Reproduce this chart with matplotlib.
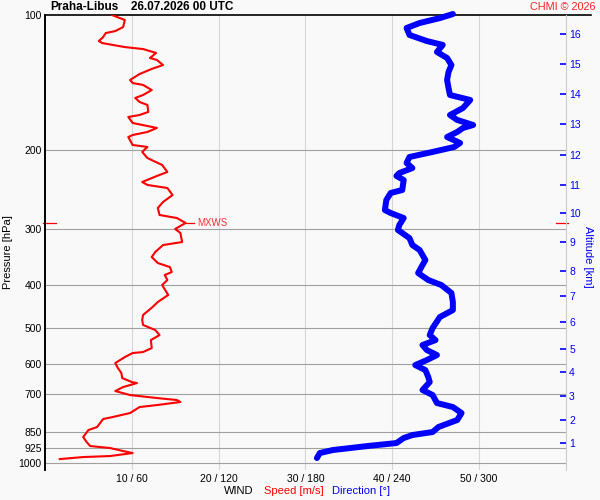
import numpy as np
import matplotlib.pyplot as plt
from matplotlib.ticker import NullLocator

plt.rcParams['font.family'] = ['Liberation Sans', 'DejaVu Sans']

station = 'Praha-Libus'
stamp = '26.07.2026 00 UTC'
credit = 'CHMI \u00a9 2026'

# wind speed profile: pressure [hPa], speed [m/s]
speed_p = [100, 102.6, 106.4, 108.6, 109.7, 112.0, 114.3, 115.5, 117.9, 119.1,
           121.5, 124.7, 126.0, 129.3, 131.9, 135.4, 139.6, 141.8, 143.2, 147.0,
           150.8, 153.1, 156.3, 158.7, 164.5, 167.1, 168.8, 174.1, 176.8, 178.6,
           182.3, 185.2, 187.1, 194.9, 196.9, 202.0, 208.4, 216.0, 223.9, 228.5,
           235.7, 239.3, 243.1, 252.0, 261.2, 269.4, 279.2, 283.6, 290.9, 295.4,
           300.0, 306.2, 320.8, 325.8, 337.7, 346.5, 357.3, 364.8, 374.2, 380.0,
           389.9, 400.1, 421.0, 436.4, 447.8, 466.5, 478.6, 491.1, 503.9, 517.2,
           530.7, 552.9, 564.3, 567.2, 579.0, 597.1, 612.6, 628.5, 644.9, 658.3,
           661.7, 675.4, 689.4, 703.7, 714.6, 722.0, 729.4, 740.8, 748.4, 771.8,
           787.8, 795.9, 829.3, 842.2, 873.0, 895.7, 914.3, 923.7, 938.1, 947.8,
           962.5, 967.5, 977.6]
speed = [7.7, 9.2, 9.0, 8.1, 7.0, 6.7, 6.2, 6.6, 9.2, 11.3,
         12.8, 12.1, 12.9, 13.6, 12.3, 10.9, 9.8, 10.1, 11.3, 12.3,
         11.3, 10.4, 10.9, 11.8, 11.9, 10.9, 9.6, 10.1, 11.8, 12.9,
         11.8, 10.1, 9.6, 10.1, 11.8, 11.2, 11.8, 13.5, 14.1, 12.9,
         11.2, 11.8, 14.1, 14.7, 13.6, 13.0, 13.2, 15.2, 16.2, 15.6,
         15.0, 15.6, 15.8, 13.6, 12.7, 12.3, 13.0, 14.4, 14.6, 13.8,
         14.1, 13.5, 14.2, 13.0, 12.4, 11.3, 11.2, 11.3, 12.7, 13.2,
         12.2, 12.3, 11.3, 10.1, 9.2, 8.1, 8.4, 8.8, 8.9, 10.0,
         10.6, 9.0, 8.1, 9.8, 12.9, 15.2, 15.6, 12.9, 10.9, 9.8,
         7.8, 6.7, 6.0, 5.0, 4.4, 4.8, 5.2, 7.5, 9.0, 10.1,
         7.5, 4.4, 1.7]

# wind direction profile: pressure [hPa], direction [deg]
dir_p = [99.5, 101.6, 104.2, 106.9, 110.8, 114.3, 116.6, 120.9, 124.7, 129.3,
         134.0, 139.6, 145.5, 150.8, 154.7, 161.2, 167.1, 171.4, 175.9, 178.6,
         182.3, 187.1, 192.9, 196.9, 202.0, 207.3, 213.8, 219.4, 225.1, 228.5,
         233.3, 245.6, 249.4, 258.5, 272.2, 276.4, 283.6, 293.9, 301.5, 314.4,
         325.8, 334.2, 351.9, 361.0, 376.1, 389.9, 400.1, 416.7, 436.4, 454.9,
         471.5, 498.8, 517.2, 530.7, 544.4, 558.6, 573.1, 588.0, 603.3, 619.1,
         641.6, 658.3, 685.8, 703.7, 733.2, 748.4, 771.8, 800.0, 829.3, 850.9,
         864.1, 877.5, 900.3, 914.3, 933.3, 947.8, 972.4]
direction = [282, 273, 259, 250, 252, 264, 275, 271, 278, 281,
             279, 278, 279, 280, 294, 289, 280, 285, 296, 289,
             285, 278, 287, 283, 268, 252, 250, 254, 245, 243,
             248, 247, 239, 236, 235, 239, 248, 245, 244, 252,
             254, 259, 263, 261, 258, 265, 274, 281, 282, 282,
             273, 268, 266, 270, 261, 264, 271, 264, 256, 263,
             265, 266, 261, 268, 271, 282, 288, 285, 272, 268,
             254, 248, 243, 223, 199, 190, 188]

p_ticks = [100, 200, 300, 400, 500, 600, 700, 850, 925, 1000]
alt_km = list(range(1, 17))
alt_p = [900, 800, 707, 625, 555, 484, 423, 372, 321, 276,
         239, 205, 175, 150, 128.6, 110.2]
speed_ticks = [10, 20, 30, 40, 50]

bg = '#f9f9f9'
fig = plt.figure(figsize=(6, 5), dpi=100, facecolor=bg)
ax = fig.add_axes([0.075, 0.06, 0.8678, 0.91], facecolor=bg)
ax.set_yscale('log')
ax.set_ylim(1034, 100)
ax.set_xlim(0, 60)

ax.set_yticks(p_ticks)
ax.set_yticklabels([str(p) for p in p_ticks])
ax.yaxis.set_minor_locator(NullLocator())
ax.tick_params(axis='y', length=0, pad=2.5, labelsize=7.5)
ax.set_xticks(speed_ticks)
ax.set_xticklabels(['%d / %d' % (s, s * 6) for s in speed_ticks])
ax.tick_params(axis='x', length=0, pad=3, labelsize=7.5)

for p in p_ticks[1:]:
    ax.axhline(p, color='#a0a0a0', lw=0.8, zorder=1)
for s in speed_ticks:
    ax.axvline(s, color='#d6d6d6', lw=0.8, zorder=0.5)

ax.spines['top'].set_visible(False)
ax.spines['bottom'].set_visible(False)
ax.spines['left'].set_linewidth(1.4)
ax.spines['right'].set_color('#cccccc')
ax.spines['right'].set_linewidth(0.8)
# top line runs a bit past the right axis
ax.plot([0, 1.0486], [1, 1], transform=ax.transAxes, clip_on=False, color='k', lw=1.2)

ax.plot(speed, speed_p, color='red', lw=1.5, zorder=3)
# direction shares the axis: 60 m/s <-> 360 deg
ax.plot(np.array(direction) / 6, dir_p, color='blue', lw=4.3,
        solid_capstyle='round', solid_joinstyle='round', clip_on=False, zorder=3)

# max wind marker
i = int(np.argmax(speed))
yt = ax.get_yaxis_transform()
ax.plot([-0.004, 0.021], [speed_p[i]] * 2, transform=yt, clip_on=False, color='red', lw=0.9)
ax.plot([0.981, 1.005], [speed_p[i]] * 2, transform=yt, clip_on=False, color='red', lw=0.9)
ax.plot([speed[i], speed[i] + 1.0], [speed_p[i]] * 2, color='red', lw=0.9)
ax.text(speed[i] + 1.3, speed_p[i], 'MXWS', color='#ff3030', fontsize=7, va='center')

ax2 = ax.twinx()
ax2.set_yscale('log')
ax2.set_ylim(ax.get_ylim())
ax2.set_yticks(alt_p)
ax2.set_yticklabels([str(a) for a in alt_km])
ax2.yaxis.set_minor_locator(NullLocator())
ax2.tick_params(axis='y', direction='in', length=4.5, width=1.2, color='blue',
                labelcolor='blue', pad=2.5, labelsize=7.5)
for sp in ax2.spines.values():
    sp.set_visible(False)

fig.text(8 / 600, 1 - 252 / 500, 'Pressure [hPa]', rotation=90, ha='center', va='center', fontsize=8)
fig.text(588 / 600, 1 - 257 / 500, 'Altitude [km]', rotation=-90, ha='center', va='center',
         fontsize=8, color='blue')

yb = 1 - 491 / 500
fig.text(239 / 600, yb, 'WIND', ha='center', va='center', fontsize=8)
fig.text(264 / 600, yb, 'Speed [m/s]', ha='left', va='center', fontsize=8, color='red')
fig.text(332 / 600, yb, 'Direction [\u00b0]', ha='left', va='center', fontsize=8, color='blue')

yt_title = 1 - 7.5 / 500
fig.text(50 / 600, yt_title, station, ha='left', va='center', fontsize=8.5, fontweight='bold')
fig.text(131 / 600, yt_title, stamp, ha='left', va='center', fontsize=8.5, fontweight='bold')
fig.text(596 / 600, yt_title, credit, ha='right', va='center', fontsize=7.8, color='#ff2020')

fig.savefig('out.png', dpi=100, facecolor=bg)
